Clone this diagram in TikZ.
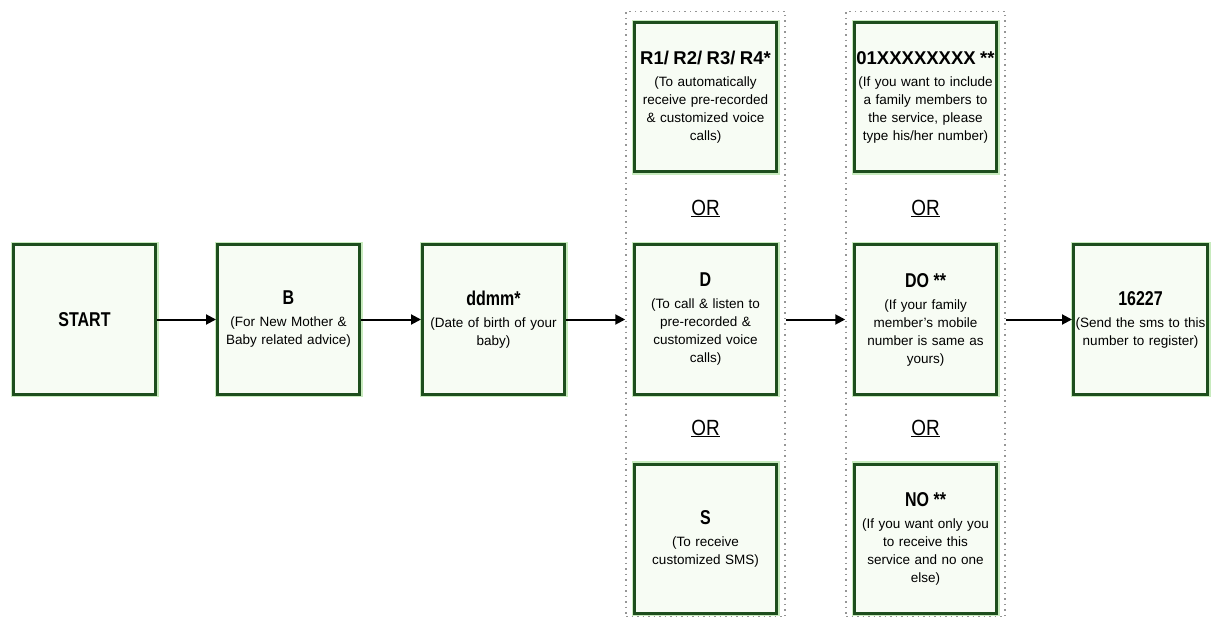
\documentclass[tikz,border=0pt]{standalone}
\usepackage{fontspec}
\setmainfont{Liberation Sans}
\newfontfamily\headfont[FakeStretch=0.8]{Liberation Sans}
\newfontfamily\orfont[FakeStretch=0.86]{Liberation Sans}
\usetikzlibrary{arrows.meta,positioning,fit,backgrounds}

\definecolor{boxgreen}{RGB}{30,78,30}
\definecolor{boxfill}{RGB}{247,252,244}
\definecolor{glowgreen}{RGB}{200,235,190}
\definecolor{framegray}{RGB}{150,150,150}

\newcommand{\boxhead}[1]{{\headfont\bfseries\fontsize{20}{22}\selectfont #1}}
\newcommand{\widehead}[1]{{\bfseries\fontsize{18.5}{22}\selectfont #1}}

\begin{document}
\begin{tikzpicture}[x=1pt,y=1pt,>={Triangle[length=10pt,width=10pt]}]
  \tikzstyle{entry}=[rectangle,draw=boxgreen,line width=3pt,fill=boxfill,
    preaction={draw=glowgreen,line width=6pt},
    minimum width=142pt,minimum height=149pt,text width=140pt,inner xsep=1pt,
    align=center,font=\fontsize{13.5}{18}\selectfont]
  \tikzstyle{orlabel}=[inner sep=0pt,font=\orfont\fontsize{22}{24}\selectfont]
  \tikzstyle{group}=[draw=framegray,line width=1.5pt,dash pattern=on 1.5pt off 4pt,
    inner xsep=7pt,inner ysep=2pt]
  \tikzstyle{link}=[->,line width=2pt]

  \useasboundingbox (0,0) rectangle (1212,-620);

  % main row
  \node [entry] (start) at (84.5,-319.5) {\boxhead{START}};
  \node [entry] (advice) [right=59pt of start]
    {\boxhead{B}\\[4pt](For New Mother \&\\Baby related advice)};
  \node [entry] (dob) [right=60pt of advice]
    {\boxhead{ddmm*}\\[4pt](Date of birth of your\\baby)};

  % first choice
  \node [entry] (call) [right=67pt of dob]
    {\boxhead{D}\\[4pt](To call \& listen to\\pre-recorded \&\\customized voice\\calls)};
  \node [entry] (recv) [above=70pt of call]
    {\widehead{R1/ R2/ R3/ R4*}\\[4pt](To automatically\\receive pre-recorded\\\& customized voice\\calls)};
  \node [entry] (sms) [below=67pt of call]
    {\boxhead{S}\\[4pt](To receive\\customized SMS)};
  \node [orlabel] (or1) [below=26pt of recv] {\underline{OR}};
  \node [orlabel] (or2) [below=24pt of call] {\underline{OR}};

  % second choice
  \node [entry] (same) [right=75pt of call]
    {\boxhead{DO **}\\[4pt](If your family\\member's mobile\\number is same as\\yours)};
  \node [entry] (fam) [above=70pt of same]
    {\widehead{01XXXXXXXX **}\\[4pt](If you want to include\\a family members to\\the service, please\\type his/her number)};
  \node [entry] (self) [below=67pt of same]
    {\boxhead{NO **}\\[4pt](If you want only you\\to receive this\\service and no one\\else)};
  \node [orlabel] (or3) [below=26pt of fam] {\underline{OR}};
  \node [orlabel] (or4) [below=24pt of same] {\underline{OR}};

  \node [entry,minimum width=133pt,text width=132pt] (reg) [right=74pt of same]
    {\boxhead{16227}\\[4pt](Send the sms to this\\number to register)};

  \begin{pgfonlayer}{background}
    \node [group,fit={(recv) (sms) ([yshift=8pt]recv.north)}] (col1) {};
    \node [group,fit={(fam) (self) ([yshift=8pt]fam.north)}] (col2) {};
  \end{pgfonlayer}

  \draw [link] (start) -- (advice);
  \draw [link] (advice) -- (dob);
  \draw [link] (dob) -- (dob -| col1.west);
  \draw [link] (call -| col1.east) -- (call -| col2.west);
  \draw [link] (same -| col2.east) -- (reg);
\end{tikzpicture}
\end{document}
